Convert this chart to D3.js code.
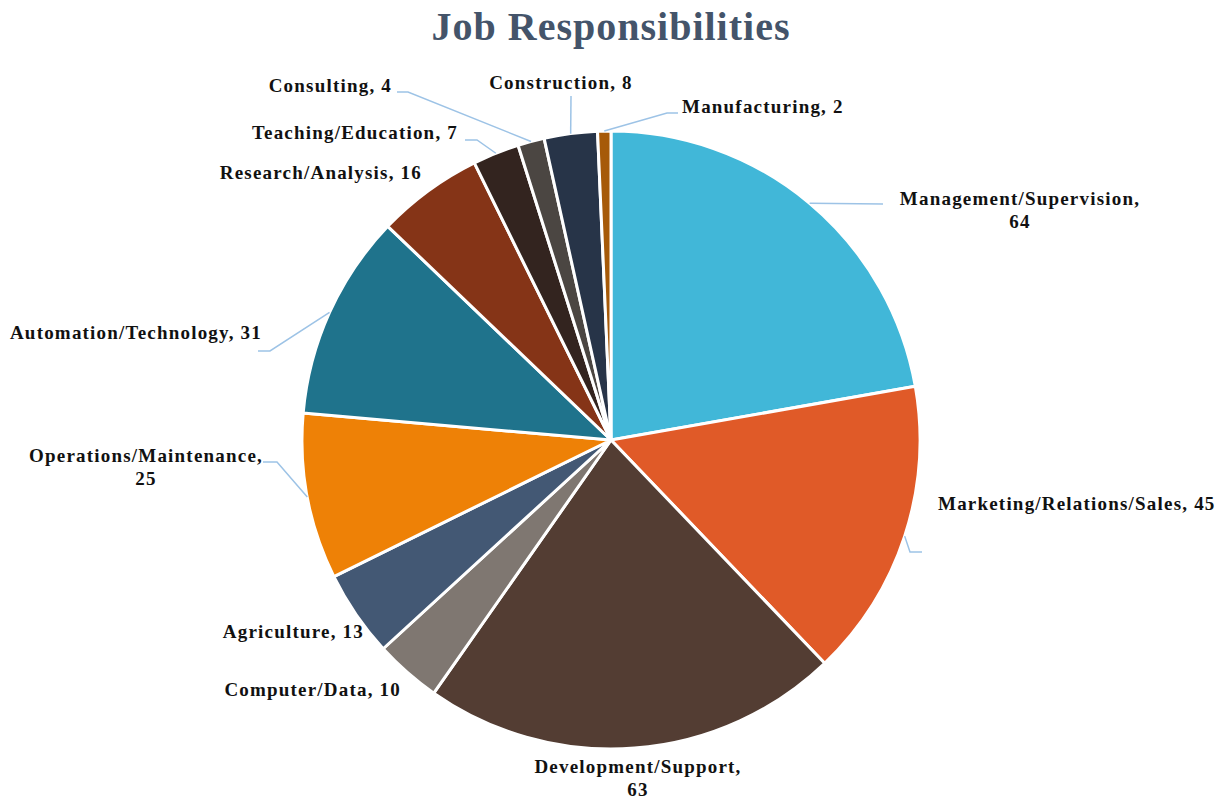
<!DOCTYPE html>
<html>
<head>
<meta charset="utf-8">
<script src="https://cdn.jsdelivr.net/npm/d3@7"></script>
<style>
  body { margin: 0; background: #fff; }
  text { font-family: "Liberation Serif", "DejaVu Serif", serif; font-weight: bold; }
</style>
</head>
<body>
<div id="container"></div>
<script>
const categories = ["Management/Supervision","Marketing/Relations/Sales","Development/Support","Computer/Data","Agriculture","Operations/Maintenance","Automation/Technology","Research/Analysis","Teaching/Education","Consulting","Construction","Manufacturing"];
const values = [64,45,63,10,13,25,31,16,7,4,8,2];
const colors = ["#41B7D8","#E05A28","#533D33","#7F7771","#435874","#EE8106","#1F738C","#853417","#33241F","#4B4642","#273448","#A65A09"];

// label placement (as laid out in the original chart)
const labelLayout = [
    {lines: ["Management/Supervision,","64"], x: 1020, y: 205, anchor: "middle", leader: [[883,204]]},
    {lines: ["Marketing/Relations/Sales, 45"], x: 938, y: 510, anchor: "start", leader: [[910,552],[922,552]]},
    {lines: ["Development/Support,","63"], x: 638, y: 773, anchor: "middle", leader: null},
    {lines: ["Computer/Data, 10"], x: 401, y: 696, anchor: "end", leader: null},
    {lines: ["Agriculture, 13"], x: 364, y: 638, anchor: "end", leader: null},
    {lines: ["Operations/Maintenance,","25"], x: 146, y: 462, anchor: "middle", leader: [[277,462],[263,462]]},
    {lines: ["Automation/Technology, 31"], x: 262, y: 339, anchor: "end", leader: [[270,351],[258,351]]},
    {lines: ["Research/Analysis, 16"], x: 422, y: 179, anchor: "end", leader: null},
    {lines: ["Teaching/Education, 7"], x: 458, y: 139, anchor: "end", leader: [[477,140],[465,140]]},
    {lines: ["Consulting, 4"], x: 392, y: 92, anchor: "end", leader: [[408,92],[397,92]]},
    {lines: ["Construction, 8"], x: 561, y: 89, anchor: "middle", leader: [[571,96]]},
    {lines: ["Manufacturing, 2"], x: 682, y: 113, anchor: "start", leader: [[667,113],[678,113]]}
];

const w = 1226, h = 799;
const cx = 611, cy = 440, radius = 309;

const data = categories.map((c,i) => ({name: c, value: values[i], color: colors[i], layout: labelLayout[i]}));

const svg = d3.select("#container")
    .append("svg")
    .attr("width", w)
    .attr("height", h);

svg.append("text")
    .attr("x", cx)
    .attr("y", 40)
    .attr("text-anchor", "middle")
    .attr("fill", "#44546A")
    .style("font-size", "40px")
    .style("letter-spacing", "1px")
    .text("Job Responsibilities");

const pie = d3.pie()
    .sort(null)
    .value((d) => d.value);

const arc = d3.arc()
    .innerRadius(0)
    .outerRadius(radius);

const arcs = pie(data);

const g = svg.append("g")
    .attr("transform", "translate(" + cx + "," + cy + ")");

g.selectAll("path")
    .data(arcs)
    .enter()
    .append("path")
    .attr("d", arc)
    .attr("fill", (d) => d.data.color)
    .attr("stroke", "#fff")
    .attr("stroke-width", 3)
    .attr("stroke-linejoin", "round");

// leader lines start at the slice's outer edge
const edgePoint = (d) => {
    const a = (d.startAngle + d.endAngle) / 2;
    return [cx + radius * Math.sin(a), cy - radius * Math.cos(a)];
};

svg.selectAll("polyline.leader")
    .data(arcs.filter((d) => d.data.layout.leader))
    .enter()
    .append("polyline")
    .attr("class", "leader")
    .attr("points", (d) => [edgePoint(d)].concat(d.data.layout.leader).map((p) => p.join(",")).join(" "))
    .attr("fill", "none")
    .attr("stroke", "#9DC3E6")
    .attr("stroke-width", 1.5);

const labels = svg.selectAll("text.label")
    .data(arcs)
    .enter()
    .append("text")
    .attr("class", "label")
    .attr("x", (d) => d.data.layout.x)
    .attr("y", (d) => d.data.layout.y)
    .attr("text-anchor", (d) => d.data.layout.anchor)
    .attr("fill", "#111")
    .style("font-size", "19px")
    .style("letter-spacing", "1.2px");

labels.selectAll("tspan")
    .data((d) => d.data.layout.lines.map((t) => ({t: t, x: d.data.layout.x})))
    .enter()
    .append("tspan")
    .attr("x", (d) => d.x)
    .attr("dy", (d,i) => i == 0 ? 0 : 23)
    .text((d) => d.t);
</script>
</body>
</html>
